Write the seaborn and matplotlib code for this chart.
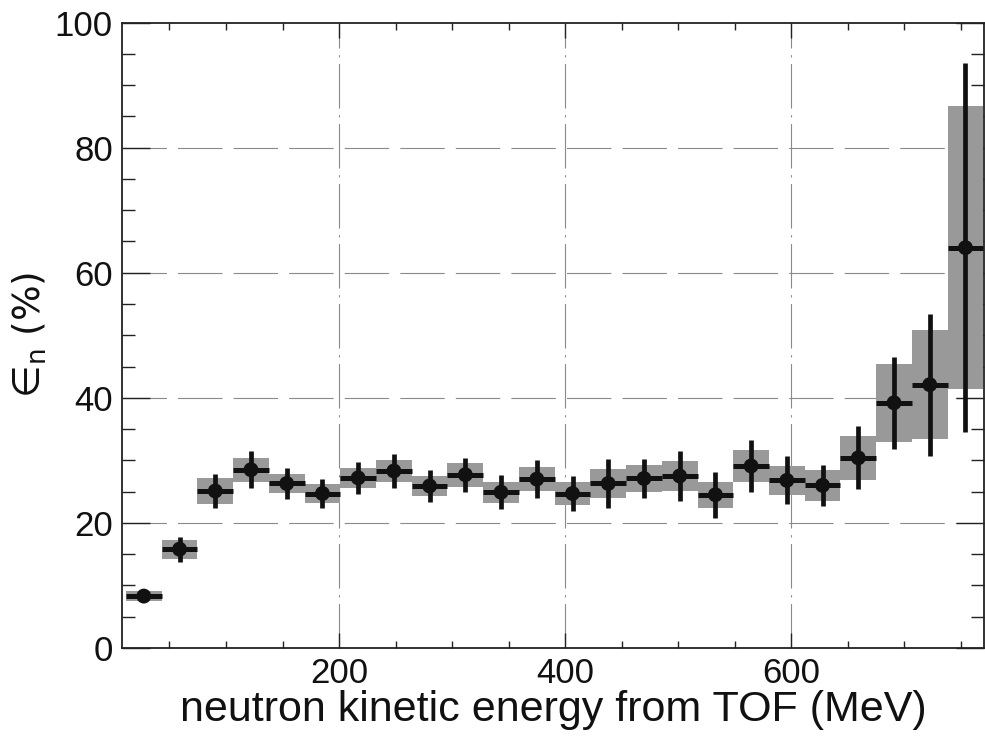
import numpy as np
import pandas as pd
import matplotlib
matplotlib.use("Agg")
import matplotlib.pyplot as plt
import seaborn as sns

# ---- data ----
energy = [27.3, 58.9, 90.5, 122.1, 153.7, 185.3, 216.9, 248.5, 280.1, 311.7,
          343.3, 374.9, 406.5, 438.1, 469.7, 501.3, 532.9, 564.5, 596.1, 627.7,
          659.3, 690.9, 722.5, 754.1]
bin_half_width = 15.8
efficiency = [8.3, 15.8, 25.1, 28.5, 26.3, 24.7, 27.2, 28.3, 25.9, 27.7,
              24.9, 27.0, 24.7, 26.3, 27.1, 27.5, 24.5, 29.1, 26.8, 26.0,
              30.4, 39.2, 42.1, 64.0]
stat_err = [0.6, 2.0, 2.75, 3.0, 2.55, 2.25, 2.6, 2.75, 2.6, 2.75,
            2.7, 3.05, 2.8, 3.9, 3.15, 3.95, 3.65, 4.1, 3.85, 3.25,
            5.05, 7.4, 11.35, 29.5]
sys_err = [0.75, 1.5, 2.05, 1.95, 1.5, 1.45, 1.6, 1.75, 1.6, 1.95,
           1.7, 1.9, 1.85, 2.25, 2.1, 2.45, 2.05, 2.55, 2.35, 2.45,
           3.5, 6.2, 8.75, 22.6]
x_major = [200, 400, 600]
y_major = [0, 20, 40, 60, 80, 100]

df = pd.DataFrame({"E": energy, "eff": efficiency, "stat": stat_err, "sys": sys_err})

sns.set_theme(style="ticks")
plt.rcParams["font.family"] = ["Liberation Sans", "DejaVu Sans"]
plt.rcParams["mathtext.fontset"] = "dejavusans"

fig = plt.figure(figsize=(9.85, 7.43), dpi=100)
ax = fig.add_axes([122 / 985, 1 - 648 / 743, (984 - 122) / 985, (648 - 22.5) / 743])

# grid
for yv in [20, 40, 60, 80]:
    ax.axhline(yv, color="#8a8a8a", lw=0.8, ls=(0, (40, 10)), zorder=0)
for xv in x_major:
    ax.axvline(xv, color="#8a8a8a", lw=0.8, ls=(0, (40, 6, 2, 6)), zorder=0)

# systematic boxes
ax.bar(df["E"], 2 * df["sys"], bottom=df["eff"] - df["sys"], width=2 * bin_half_width,
       color="#999999", edgecolor="none", zorder=2)

# stat error bars + bin width bars
ax.errorbar(df["E"], df["eff"], yerr=df["stat"], fmt="none", ecolor="#111111",
            elinewidth=3.4, capsize=0, zorder=3)
ax.errorbar(df["E"], df["eff"], xerr=bin_half_width, fmt="none", ecolor="#111111",
            elinewidth=3.6, capsize=0, zorder=3)
sns.scatterplot(data=df, x="E", y="eff", ax=ax, color="#111111", s=115,
                edgecolor="none", zorder=4, legend=False)

ax.set_xlim(8, 770.5)
ax.set_ylim(0, 100)
ax.set_xticks(x_major)
ax.set_xticks(np.arange(50, 800, 50), minor=True)
ax.set_yticks(y_major)
ax.set_yticks(np.arange(5, 100, 5), minor=True)

ax.tick_params(axis="both", which="both", direction="in", top=True, right=True,
               width=1.0, color="#222222", labelsize=25, labelcolor="#111111")
ax.tick_params(axis="x", which="major", length=11, pad=6.5)
ax.tick_params(axis="x", which="minor", length=5)
ax.tick_params(axis="y", which="major", length=20, pad=6.5)
ax.tick_params(axis="y", which="minor", length=9.5)

for sp in ax.spines.values():
    sp.set_linewidth(1.3)
    sp.set_color("#222222")

ax.set_xlabel("neutron kinetic energy from TOF (MeV)", fontsize=31, color="#111111",
              labelpad=0)
ax.set_ylabel("\u2208$_{\\mathregular{n}}$ (%)", fontsize=27, color="#111111",
              labelpad=4, family=["DejaVu Sans"])

fig.savefig("out.png", dpi=100)
